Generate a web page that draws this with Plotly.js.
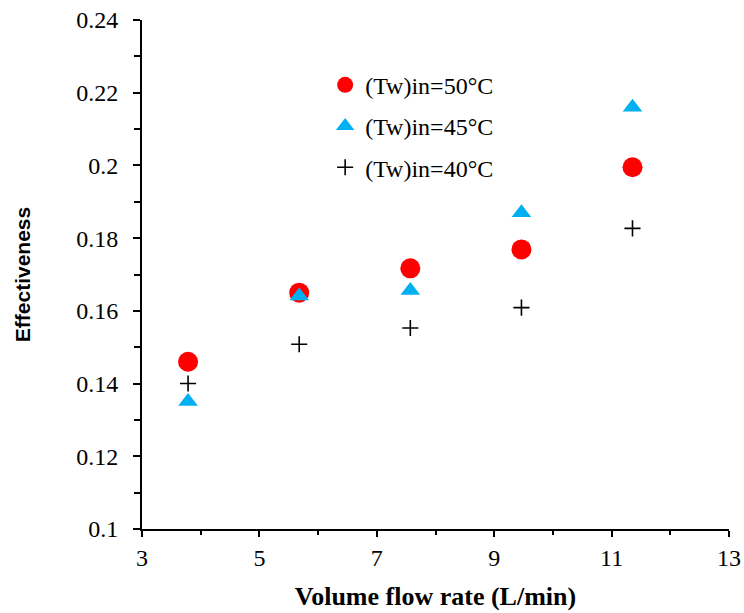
<!DOCTYPE html>
<html>
<head>
<meta charset="utf-8">
<script src="https://cdn.plot.ly/plotly-3.0.1.min.js"></script>
<style>html,body{margin:0;padding:0;background:#fff;}#chart{width:744px;height:613px;}</style>
</head>
<body>
<div id="chart"></div>
<script>
const flowRate = [3.785, 5.678, 7.571, 9.464, 11.356];
const eff50 = [0.146, 0.165, 0.1717, 0.1769, 0.1995];
const eff45 = [0.1351, 0.1641, 0.1656, 0.1870, 0.2160];
const eff40 = [0.1400, 0.1508, 0.1553, 0.1609, 0.1827];
const seriesNames = ['(Tw)in=50°C', '(Tw)in=45°C', '(Tw)in=40°C'];

const serif = 'Liberation Serif, Times New Roman, serif';

const traces = [
  {x: flowRate, y: eff50, name: seriesNames[0], mode: 'markers', type: 'scatter', legendgroup: 'a',
   marker: {symbol: 'circle', size: 20, color: '#FF0000'}},
  {x: flowRate, y: eff45, name: seriesNames[1], mode: 'markers', type: 'scatter', legendgroup: 'b',
   marker: {symbol: 'triangle-up', size: 17, color: '#00B0F0'}},
  {x: flowRate, y: eff40, name: seriesNames[2], mode: 'markers', type: 'scatter', legendgroup: 'c',
   marker: {symbol: 'cross-thin', size: 11.5, color: '#000000', line: {color: '#000000', width: 1.6}}}
];

const layout = {
  width: 744, height: 613,
  margin: {l: 142, r: 15, t: 20, b: 84},
  paper_bgcolor: '#ffffff', plot_bgcolor: '#ffffff',
  showlegend: true,
  legend: {x: 0.312, y: 0.916, xanchor: 'left', yanchor: 'top', bgcolor: 'rgba(0,0,0,0)',
           font: {family: serif, size: 24, color: '#000'}, traceorder: 'grouped', tracegroupgap: 7},
  xaxis: {
    range: [3, 13], dtick: 2, tick0: 3, showgrid: false, zeroline: false,
    showline: true, linecolor: '#000', linewidth: 2,
    ticks: 'outside', ticklen: 6, tickwidth: 2, tickcolor: '#000',
    minor: {dtick: 1, tick0: 3, ticks: 'outside', ticklen: 4, tickwidth: 2, tickcolor: '#000', showgrid: false},
    tickfont: {family: serif, size: 24, color: '#000'},
    title: {text: '<b>Volume flow rate (L/min)</b>', font: {family: serif, size: 26, color: '#000'}, standoff: 17}
  },
  yaxis: {
    range: [0.1, 0.24], dtick: 0.02, tick0: 0.1, showgrid: false, zeroline: false,
    showline: true, linecolor: '#000', linewidth: 2,
    ticks: 'outside', ticklen: 7, tickwidth: 2, tickcolor: '#000',
    minor: {dtick: 0.01, ticks: 'outside', ticklen: 6, tickwidth: 2, tickcolor: '#000', showgrid: false},
    tickfont: {family: serif, size: 24, color: '#000'},
    ticklabelstandoff: 10,
    title: {text: '<b>Effectiveness</b>', font: {family: 'Liberation Sans, Arial, sans-serif', size: 21, color: '#000'}, standoff: 40}
  }
};

Plotly.newPlot('chart', traces, layout, {displayModeBar: false, staticPlot: true});
</script>
</body>
</html>
